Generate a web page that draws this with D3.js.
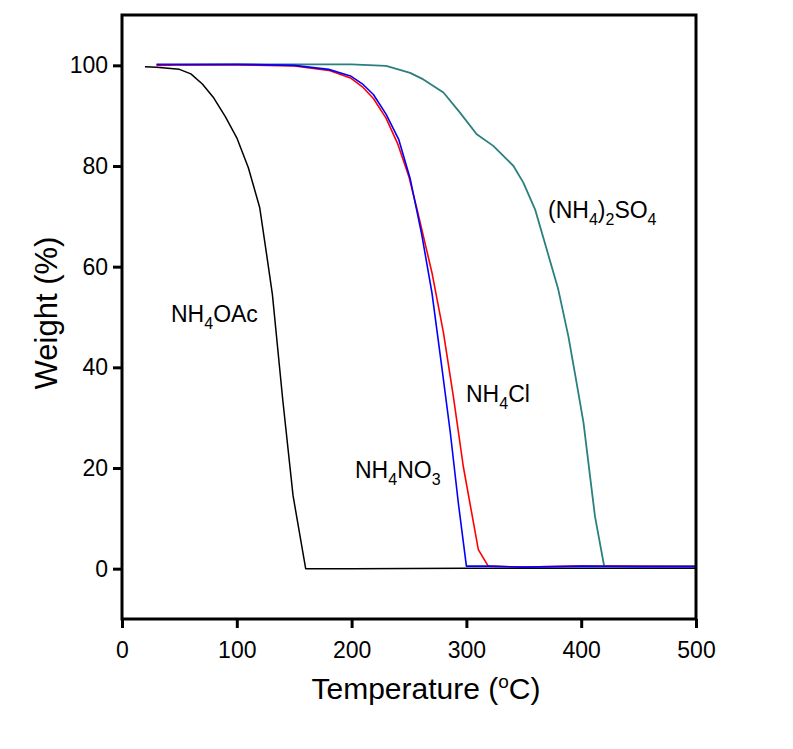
<!DOCTYPE html>
<html><head><meta charset="utf-8">
<script src="https://cdn.jsdelivr.net/npm/d3@7"></script>
<style>body{margin:0;background:#fff;} svg{display:block;font-family:Arial,"Liberation Sans",sans-serif;}</style>
</head><body>
<svg id="c" width="793" height="749"></svg>
<script>
// ---- data ----
const tempOAc = [20,30,40,50,60,70,80,90,100,110,120,126,131,140,149,160,200,300,400,500];
const wOAc    = [99.7,99.6,99.4,99.2,98.3,96.3,93.5,89.8,85.6,79.7,71.7,62.4,54.5,33.6,14.5,0,0,0.1,0.1,0.1];

const tempNO3 = [30,50,100,150,180,199,210,219,230,241,251,261,270,278.5,286,293,300,320,350,400,450,500];
const wNO3    = [100.2,100.2,100.2,100,99.2,97.9,96.2,94.2,90.3,85.3,77.5,66.5,54.8,40.2,27,13,0.5,0.5,0.3,0.5,0.4,0.4];

const tempCl  = [30,50,100,150,180,199,210,219,230,240,250,257,270,280,288.6,297.3,310.4,319,350,400,500];
const wCl     = [100,100.1,100.1,99.9,99,97.5,95.6,93.4,89.5,84.5,77.8,71.4,58.8,46.9,34.3,20.3,3.8,0.5,0.3,0.5,0.4];

const tempSO4 = [50,100,150,200,230,251,262.5,280,294.4,309,323.4,341,349.6,359.8,370,380,388.8,396,402,407.7,412,420,450,500];
const wSO4    = [100.1,100.2,100.2,100.2,99.9,98.5,97.2,94.6,90.6,86.3,84,80,76.7,71.4,63.4,55.5,46.2,36.9,29,18.4,10.4,0.5,0.5,0.5];

const xTicks = [0,100,200,300,400,500];
const yTicks = [0,20,40,60,80,100];

const series = [
  {t: tempOAc, w: wOAc, color: "#000000", width: 1.5},
  {t: tempSO4, w: wSO4, color: "#2a7f7f", width: 1.8},
  {t: tempCl,  w: wCl,  color: "#ff0000", width: 1.6},
  {t: tempNO3, w: wNO3, color: "#0000ff", width: 1.6}
];

const labels = [
  {parts: [["NH",0],["4",1],["OAc",0]], x: 171, y: 322},
  {parts: [["NH",0],["4",1],["Cl",0]], x: 466, y: 402},
  {parts: [["NH",0],["4",1],["NO",0],["3",1]], x: 355, y: 478},
  {parts: [["(NH",0],["4",1],[")",0],["2",1],["SO",0],["4",1]], x: 548, y: 218}
];

// ---- layout ----
const L = 122, R = 696, T = 15, B = 619;
const svg = d3.select("#c");
const x = d3.scaleLinear().domain([0,500]).range([L,R]);
const y = d3.scaleLinear().domain([-10,110]).range([B,T]);

// axes
const xAxis = svg.append("g").attr("transform",`translate(0,${B})`)
  .call(d3.axisBottom(x).tickValues(xTicks).tickSize(9).tickPadding(14).tickSizeOuter(0));
const yAxis = svg.append("g").attr("transform",`translate(${L},0)`)
  .call(d3.axisLeft(y).tickValues(yTicks).tickSize(9).tickPadding(5).tickSizeOuter(0));
[xAxis,yAxis].forEach(g=>{
  g.select(".domain").remove();
  g.selectAll(".tick line").attr("stroke","#000").attr("stroke-width",3);
  g.selectAll(".tick text").attr("font-size",23).attr("fill","#000").attr("font-family","Arial, 'Liberation Sans', sans-serif");
});

// lines
const line = d3.line().x(d=>x(d[0])).y(d=>y(d[1]));
series.forEach(s=>{
  const pts = s.t.map((t,i)=>[t,s.w[i]]);
  svg.append("path").datum(pts).attr("d",line)
    .attr("fill","none").attr("stroke",s.color).attr("stroke-width",s.width)
    .attr("stroke-linejoin","round");
});

// frame
svg.append("rect").attr("x",L).attr("y",T).attr("width",R-L).attr("height",B-T)
  .attr("fill","none").attr("stroke","#000").attr("stroke-width",3);

// labels
labels.forEach(lb=>{
  const t = svg.append("text").attr("x",lb.x).attr("y",lb.y).attr("font-size",23).attr("fill","#000");
  let prevSub = false;
  lb.parts.forEach(p=>{
    const sub = p[1]===1;
    let dy = 0;
    if (sub && !prevSub) dy = 7;
    if (!sub && prevSub) dy = -7;
    t.append("tspan").text(p[0]).attr("dy",dy).attr("font-size", sub?16:23);
    prevSub = sub;
  });
});

// axis titles
const xt = svg.append("text").attr("x",(L+R)/2+17).attr("y",699).attr("text-anchor","middle")
  .attr("font-size",30).attr("fill","#000");
xt.append("tspan").text("Temperature (");
xt.append("tspan").text("o").attr("font-size",19).attr("dy",-11);
xt.append("tspan").text("C)").attr("dy",11);

svg.append("text").attr("transform",`translate(57,${313}) rotate(-90)`).attr("text-anchor","middle")
  .attr("font-size",31).attr("fill","#000").text("Weight (%)");
</script>
</body></html>
